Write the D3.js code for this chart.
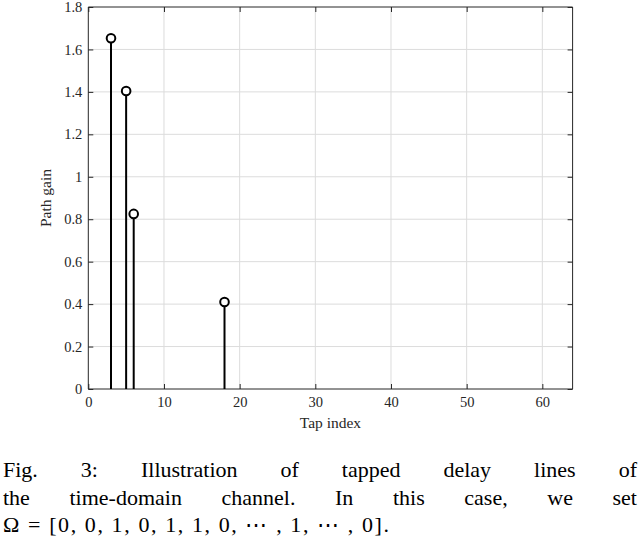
<!DOCTYPE html>
<html><head><meta charset="utf-8">
<script src="https://cdn.jsdelivr.net/npm/d3@7"></script>
<style>body{margin:0;background:#fff}svg{display:block}
svg text{font-family:"Liberation Serif","Times New Roman",serif !important}</style>
</head><body>
<svg id="c" width="640" height="545"></svg>
<script>
const taps = [3, 5, 6, 18];
const gains = [1.653, 1.404, 0.825, 0.41];
const xTicks = [0, 10, 20, 30, 40, 50, 60];
const yTicks = [0, 0.2, 0.4, 0.6, 0.8, 1, 1.2, 1.4, 1.6, 1.8];
const xLabel = "Tap index";
const yLabel = "Path gain";
const captionLines = [
  "Fig. 3: Illustration of tapped delay lines of",
  "the time-domain channel. In this case, we set"
];
const captionLast = "Ω = [0, 0, 1, 0, 1, 1, 0, ⋯ , 1, ⋯ , 0].";

const svg = d3.select("#c");
const L = 88.3, R = 572.6, T = 7, B = 389;
const x = d3.scaleLinear().domain([0, 64]).range([L, R]);
const y = d3.scaleLinear().domain([0, 1.8]).range([B, T]);

// grid
const g = svg.append("g");
g.selectAll(".gx").data(xTicks.filter(d => d > 0)).join("line")
  .attr("x1", d => x(d)).attr("x2", d => x(d)).attr("y1", T).attr("y2", B)
  .attr("stroke", "#dcdcdc").attr("stroke-width", 1);
g.selectAll(".gy").data(yTicks.filter(d => d > 0 && d < 1.8)).join("line")
  .attr("y1", d => y(d)).attr("y2", d => y(d)).attr("x1", L).attr("x2", R)
  .attr("stroke", "#dcdcdc").attr("stroke-width", 1);

// axes
const ax = d3.axisBottom(x).tickValues(xTicks).tickSize(-5).tickPadding(8).tickFormat(d3.format("d"));
const ay = d3.axisLeft(y).tickValues(yTicks).tickSize(-5).tickPadding(6).tickFormat(d => String(+d.toFixed(1)));
const axT = d3.axisTop(x).tickValues(xTicks).tickSize(-5).tickFormat("");
const ayR = d3.axisRight(y).tickValues(yTicks).tickSize(-5).tickFormat("");
function style(sel) {
  sel.attr("font-family", null).attr("font-size", null);
  sel.selectAll("path,line").attr("stroke", "#262626").attr("stroke-width", 1);
  sel.selectAll("text").attr("fill", "#262626").style("font-size", "14.5px");
}
svg.append("g").attr("transform", `translate(0,${B})`).call(ax).call(style).call(s => s.select(".domain").attr("d", `M${L},0H${R}`));
svg.append("g").attr("transform", `translate(${L},0)`).call(ay).call(style).call(s => s.select(".domain").attr("d", `M0,${B}V${T}`));
svg.append("g").attr("transform", `translate(0,${T})`).call(axT).call(style).call(s => s.select(".domain").attr("d", `M${L},0H${R}`));
svg.append("g").attr("transform", `translate(${R},0)`).call(ayR).call(style).call(s => s.select(".domain").attr("d", `M0,${B}V${T}`));

// stems
const data = taps.map((t, i) => ({t, v: gains[i]}));
svg.selectAll(".stem").data(data).join("line")
  .attr("x1", d => x(d.t)).attr("x2", d => x(d.t)).attr("y1", y(0)).attr("y2", d => y(d.v))
  .attr("stroke", "#000").attr("stroke-width", 2);
svg.selectAll(".mk").data(data).join("circle")
  .attr("cx", d => x(d.t)).attr("cy", d => y(d.v)).attr("r", 4.3)
  .attr("fill", "#fff").attr("stroke", "#000").attr("stroke-width", 2);

// axis labels
svg.append("text").attr("x", (L + R) / 2).attr("y", 428).attr("text-anchor", "middle")
  .style("font-size", "15.5px").attr("fill", "#262626").text(xLabel);
svg.append("text").attr("transform", `translate(51,${(T + B) / 2}) rotate(-90)`).attr("text-anchor", "middle")
  .style("font-size", "15.5px").attr("fill", "#262626").text(yLabel);

// caption (justified)
const left = 3, right = 637;
captionLines.forEach((line, li) => {
  const words = line.split(" ");
  const base = 477 + li * 28;
  const nodes = words.map(w => svg.append("text").attr("y", base)
    .style("font-size", "22px").attr("fill", "#000").text(w));
  const widths = nodes.map(n => n.node().getComputedTextLength());
  const total = d3.sum(widths);
  const gap = (right - left - total) / (words.length - 1);
  let cx = left;
  nodes.forEach((n, i) => { n.attr("x", cx); cx += widths[i] + gap; });
});
svg.append("text").attr("x", left).attr("y", 532)
  .attr("textLength", 386).attr("lengthAdjust", "spacing")
  .style("font-size", "22px").attr("fill", "#000").text(captionLast);
</script>
</body></html>
